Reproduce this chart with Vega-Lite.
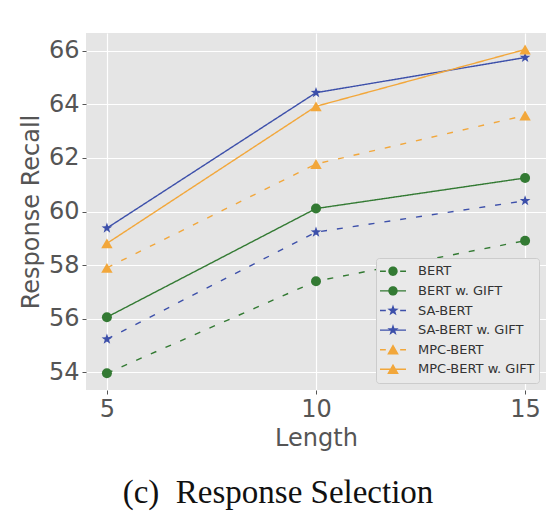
{
  "$schema": "https://vega.github.io/schema/vega-lite/v6.json",
  "autosize": {"type": "none"},
  "padding": {"left": 86, "top": 33, "right": 0, "bottom": 131},
  "width": 460,
  "height": 357,
  "background": "white",
  "title": {
    "text": "(c)\u2002Response Selection",
    "orient": "bottom",
    "anchor": "middle",
    "frame": "group",
    "dx": -38,
    "offset": 27,
    "font": "Liberation Serif",
    "fontSize": 33,
    "fontWeight": "normal",
    "color": "#111111"
  },
  "data": {
    "values": [
      {"model": "BERT", "length": 5, "recall": 53.97},
      {"model": "BERT", "length": 10, "recall": 57.4},
      {"model": "BERT", "length": 15, "recall": 58.91},
      {"model": "BERT w. GIFT", "length": 5, "recall": 56.06},
      {"model": "BERT w. GIFT", "length": 10, "recall": 60.11},
      {"model": "BERT w. GIFT", "length": 15, "recall": 61.25},
      {"model": "SA-BERT", "length": 5, "recall": 55.24},
      {"model": "SA-BERT", "length": 10, "recall": 59.23},
      {"model": "SA-BERT", "length": 15, "recall": 60.4},
      {"model": "SA-BERT w. GIFT", "length": 5, "recall": 59.38},
      {"model": "SA-BERT w. GIFT", "length": 10, "recall": 64.43},
      {"model": "SA-BERT w. GIFT", "length": 15, "recall": 65.74},
      {"model": "MPC-BERT", "length": 5, "recall": 57.9},
      {"model": "MPC-BERT", "length": 10, "recall": 61.77},
      {"model": "MPC-BERT", "length": 15, "recall": 63.58},
      {"model": "MPC-BERT w. GIFT", "length": 5, "recall": 58.81},
      {"model": "MPC-BERT w. GIFT", "length": 10, "recall": 63.92},
      {"model": "MPC-BERT w. GIFT", "length": 15, "recall": 66.04}
    ]
  },
  "encoding": {
    "x": {
      "field": "length", "type": "quantitative",
      "scale": {"domain": [4.5, 15.5], "nice": false, "zero": false},
      "axis": {"values": [5, 10, 15], "title": "Length", "titlePadding": 5}
    },
    "y": {
      "field": "recall", "type": "quantitative",
      "scale": {"domain": [53.345, 66.655], "nice": false, "zero": false},
      "axis": {"values": [54, 56, 58, 60, 62, 64, 66], "title": "Response Recall", "titlePadding": 5}
    }
  },
  "layer": [
    {
      "mark": {"type": "line", "strokeWidth": 1.4},
      "encoding": {
        "color": {
          "field": "model", "type": "nominal", "legend": null,
          "scale": {
            "range": ["#337a33", "#337a33", "#f2a73b", "#f2a73b", "#3d50aa", "#3d50aa"]
          }
        },
        "strokeDash": {
          "field": "model", "type": "nominal", "legend": null,
          "scale": {
            "range": [[6, 10], [1, 0], [6, 10], [1, 0], [6, 10], [1, 0]]
          }
        }
      }
    },
    {
      "transform": [{"filter": "indexof(datum.model, 'SA-BERT') < 0 && indexof(datum.model, 'MPC-BERT') < 0"}],
      "mark": {"type": "point", "shape": "circle", "filled": true, "opacity": 1, "size": 100},
      "encoding": {"color": {"field": "model", "type": "nominal", "legend": null}}
    },
    {
      "transform": [{"filter": "indexof(datum.model, 'SA-BERT') >= 0"}],
      "mark": {"type": "point", "shape": "M0,-1L0.235,-0.324L0.951,-0.309L0.38,0.124L0.588,0.809L0,0.4L-0.588,0.809L-0.38,0.124L-0.951,-0.309L-0.235,-0.324Z", "filled": true, "opacity": 1, "size": 125},
      "encoding": {"color": {"field": "model", "type": "nominal", "legend": null}}
    },
    {
      "transform": [{"filter": "indexof(datum.model, 'MPC-BERT') >= 0"}],
      "mark": {"type": "point", "shape": "triangle-up", "filled": true, "opacity": 1, "size": 130},
      "encoding": {"color": {"field": "model", "type": "nominal", "legend": null}}
    },
    {
      "mark": {"type": "point", "filled": true, "opacity": 0, "size": 1},
      "encoding": {
        "fill": {
          "field": "model", "type": "nominal",
          "scale": {
            "domain": ["BERT", "BERT w. GIFT", "SA-BERT", "SA-BERT w. GIFT", "MPC-BERT", "MPC-BERT w. GIFT"],
            "range": ["#337a33", "#337a33", "#3d50aa", "#3d50aa", "#f2a73b", "#f2a73b"]
          },
          "legend": {
            "title": null,
            "orient": "bottom-right",
            "offset": 7,
            "padding": 4,
            "rowPadding": 0.6,
            "clipHeight": 18.6,
            "symbolSize": 676,
            "symbolStrokeWidth": 0,
            "symbolOpacity": 1,
            "labelOffset": 12,
            "labelFont": "DejaVu Sans",
            "labelFontSize": 13,
            "labelColor": "#333333",
            "fillColor": "#e9e9e9",
            "strokeColor": "#cccccc",
            "cornerRadius": 3
          }
        },
        "shape": {
          "field": "model", "type": "nominal",
          "scale": {
            "domain": ["BERT", "BERT w. GIFT", "SA-BERT", "SA-BERT w. GIFT", "MPC-BERT", "MPC-BERT w. GIFT"],
            "range": [
              "M-1,-0.055H-0.55V0.055H-1ZM0.55,-0.055H1V0.055H0.55ZM0.36,0A0.36,0.36,0,1,1,-0.36,0A0.36,0.36,0,1,1,0.36,0Z",
              "M-1,-0.055H1V0.055H-1ZM0.36,0A0.36,0.36,0,1,1,-0.36,0A0.36,0.36,0,1,1,0.36,0Z",
              "M-1,-0.055H-0.55V0.055H-1ZM0.55,-0.055H1V0.055H0.55ZM0,-0.46L0.108,-0.149L0.437,-0.142L0.175,0.057L0.27,0.372L0,0.184L-0.27,0.372L-0.175,0.057L-0.437,-0.142L-0.108,-0.149Z",
              "M-1,-0.055H1V0.055H-1ZM0,-0.46L0.108,-0.149L0.437,-0.142L0.175,0.057L0.27,0.372L0,0.184L-0.27,0.372L-0.175,0.057L-0.437,-0.142L-0.108,-0.149Z",
              "M-1,-0.055H-0.55V0.055H-1ZM0.55,-0.055H1V0.055H0.55ZM0,-0.42L0.45,0.36L-0.45,0.36Z",
              "M-1,-0.055H1V0.055H-1ZM0,-0.42L0.45,0.36L-0.45,0.36Z"
            ]
          },
          "legend": {
            "title": null,
            "orient": "bottom-right",
            "offset": 7,
            "padding": 4,
            "rowPadding": 0.6,
            "clipHeight": 18.6,
            "symbolSize": 676,
            "symbolStrokeWidth": 0,
            "symbolOpacity": 1,
            "labelOffset": 12,
            "labelFont": "DejaVu Sans",
            "labelFontSize": 13,
            "labelColor": "#333333",
            "fillColor": "#e9e9e9",
            "strokeColor": "#cccccc",
            "cornerRadius": 3
          }
        }
      }
    }
  ],
  "config": {
    "view": {"fill": "#e5e5e5", "stroke": null},
    "axis": {
      "grid": true,
      "gridColor": "#ffffff",
      "gridWidth": 1.2,
      "domain": false,
      "ticks": true,
      "tickColor": "#555555",
      "tickSize": 4,
      "tickWidth": 1,
      "labelPadding": 3,
      "labelFont": "DejaVu Sans",
      "labelFontSize": 24,
      "labelColor": "#555555",
      "titleFont": "DejaVu Sans",
      "titleFontSize": 24,
      "titleFontWeight": "normal",
      "titleColor": "#555555"
    }
  }
}
